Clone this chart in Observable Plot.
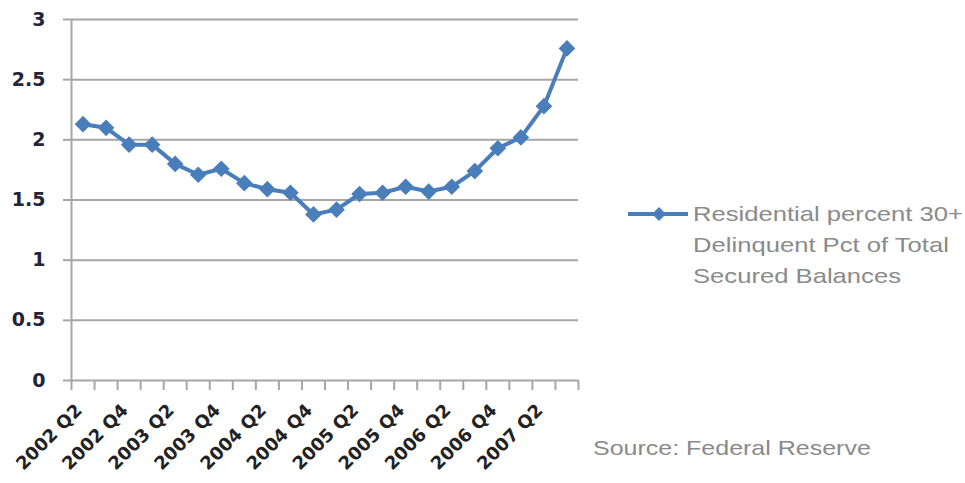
<!DOCTYPE html>
<html>
<head>
<meta charset="utf-8">
<script src="https://cdn.jsdelivr.net/npm/d3@7"></script>
<script src="https://cdn.jsdelivr.net/npm/@observablehq/plot@0.6"></script>
<style>
  html, body { margin: 0; padding: 0; background: #fff; }
  #wrap { position: relative; width: 965px; height: 483px; overflow: hidden; }
  #chart { position: absolute; left: 0; top: 0; }
  .legend { position: absolute; left: 628px; top: 198px; font-family: "Liberation Sans", Arial, sans-serif; font-size: 21px; line-height: 31px; color: #8a8a8a; }
  .legend svg { position: absolute; left: 0; top: 8px; }
  .legend .txt { position: absolute; left: 65px; top: 0; white-space: nowrap; transform: scaleX(1.22); transform-origin: 0 0; }
  .source { position: absolute; left: 593px; top: 436px; font-family: "Liberation Sans", Arial, sans-serif; font-size: 21px; color: #8a8a8a; white-space: nowrap; transform: scaleX(1.19); transform-origin: 0 0; }
</style>
</head>
<body>
<div id="wrap">
  <div id="chart"></div>
  <div class="legend">
    <svg width="62" height="16"><line x1="0" y1="8" x2="60" y2="8" stroke="#4a7ebb" stroke-width="4"/><path d="M31,1L38,8L31,15L24,8Z" fill="#4a7ebb"/></svg>
    <div class="txt">Residential percent 30+<br>Delinquent Pct of Total<br>Secured Balances</div>
  </div>
  <div class="source">Source: Federal Reserve</div>
</div>
<script>
const quarters = [
  "2002 Q2","2002 Q3","2002 Q4","2003 Q1","2003 Q2","2003 Q3","2003 Q4","2004 Q1",
  "2004 Q2","2004 Q3","2004 Q4","2005 Q1","2005 Q2","2005 Q3","2005 Q4","2006 Q1",
  "2006 Q2","2006 Q3","2006 Q4","2007 Q1","2007 Q2","2007 Q3"
];
const values = [
  2.13, 2.10, 1.96, 1.96, 1.80, 1.71, 1.76, 1.64,
  1.59, 1.56, 1.38, 1.42, 1.55, 1.56, 1.61, 1.57,
  1.61, 1.74, 1.93, 2.02, 2.28, 2.76
];
const tickLabels = ["2002 Q2","2002 Q4","2003 Q2","2003 Q4","2004 Q2","2004 Q4","2005 Q2","2005 Q4","2006 Q2","2006 Q4","2007 Q2"];
const yTicks = [0, 0.5, 1, 1.5, 2, 2.5, 3];

const data = quarters.map((q, i) => ({q, i: i + 0.5, v: values[i]}));
const labelData = tickLabels.map(l => ({l, i: quarters.indexOf(l) + 0.5}));

const chart = Plot.plot({
  width: 965,
  height: 483,
  marginLeft: 71,
  marginRight: 387,
  marginTop: 19,
  marginBottom: 103,
  x: {domain: [0, quarters.length], axis: null},
  y: {domain: [0, 3], axis: null},
  style: {fontFamily: "'DejaVu Sans', sans-serif", background: "transparent"},
  marks: [
    Plot.ruleY(yTicks, {stroke: "#a6a6a6", strokeWidth: 2}),
    Plot.axisY({ticks: yTicks, label: null, tickSize: 8, tickPadding: 18, stroke: "#a6a6a6", strokeWidth: 2, fill: "#23233a", fontSize: 19, fontWeight: "bold", tickFormat: d => String(d)}),
    Plot.ruleX([0], {stroke: "#a6a6a6", strokeWidth: 2}),
    Plot.axisX({ticks: d3.range(0, quarters.length + 1), label: null, tickSize: 10, stroke: "#a6a6a6", strokeWidth: 2, tickFormat: () => ""}),
    Plot.text(labelData, {x: "i", text: "l", frameAnchor: "bottom", rotate: -45, textAnchor: "end", dx: 0, dy: 31, fontSize: 18, fill: "#222", fontWeight: "bold"}),
    Plot.line(data, {x: "i", y: "v", stroke: "#4a7ebb", strokeWidth: 4}),
    Plot.dot(data, {x: "i", y: "v", symbol: "diamond2", r: 7.5, fill: "#4a7ebb", stroke: "none"})
  ]
});
document.getElementById("chart").appendChild(chart);
</script>
</body>
</html>
